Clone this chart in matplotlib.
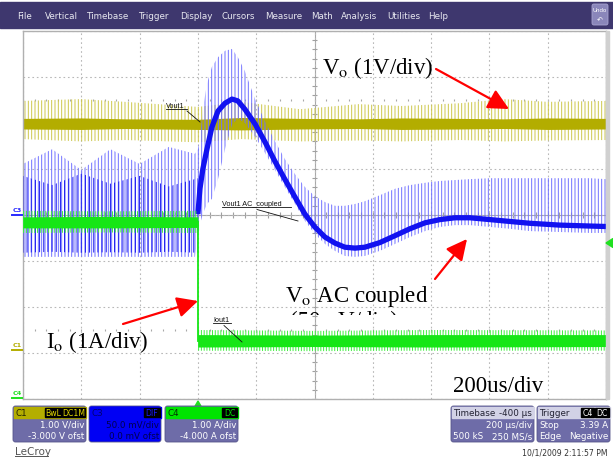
import numpy as np
import matplotlib.pyplot as plt
from matplotlib.patches import Rectangle, FancyBboxPatch, Polygon
from matplotlib.transforms import Bbox, TransformedBbox

plt.rcParams['hatch.linewidth'] = 0.7
plt.rcParams['mathtext.fontset'] = 'stix'

# time axis in us (trigger at 0, 200 us/div), traces in screen divisions
grid_t = np.arange(-600, 1401, 200)
grid_y = np.arange(-4, 5, 1)

# Vout1 (C1, yellow)
vout_t = [-600, -400, -250, 0, 150, 350, 550, 700, 900, 1050, 1200, 1400]
vout_hi = [2.48, 2.52, 2.46, 2.35, 2.46, 2.30, 2.41, 2.37, 2.43, 2.52, 2.46, 2.48]
vout_lo = [1.65, 1.60, 1.63, 1.58, 1.65, 1.60, 1.62, 1.60, 1.63, 1.60, 1.62, 1.63]
vout_core_hi = [2.10, 2.11, 2.09, 2.08, 2.12, 2.10, 2.09, 2.11, 2.10, 2.09, 2.11, 2.10]
vout_core_lo = [1.87, 1.86, 1.88, 1.86, 1.85, 1.87, 1.88, 1.86, 1.87, 1.88, 1.86, 1.87]

# Vout1 AC coupled (C3, blue)
blue_t = [-600, -500, -400, -300, -200, -100, -10,
          0, 7, 17, 31, 48, 69, 93, 117, 137, 161, 196, 230, 264, 298, 333,
          367, 401, 436, 470, 504, 539, 573, 624, 676, 727, 779, 830, 882,
          933, 1002, 1070, 1139, 1242, 1345, 1400]
blue_mid = [-0.2, -0.2, -0.2, -0.2, -0.2, -0.2, -0.2,
            0.02, 0.57, 1.0, 1.43, 1.91, 2.26, 2.43, 2.52, 2.48, 2.30, 1.98,
            1.59, 1.17, 0.78, 0.39, 0.02, -0.26, -0.48, -0.61, -0.70, -0.72,
            -0.70, -0.60, -0.45, -0.30, -0.17, -0.10, -0.06, -0.06, -0.10,
            -0.14, -0.18, -0.22, -0.24, -0.25]
blue_hi = [1.11, 1.43, 0.98, 1.43, 1.11, 1.48, 1.33,
           1.43, 1.65, 2.30, 2.85, 3.22, 3.43, 3.57, 3.61, 3.43, 3.13, 2.52,
           2.04, 1.61, 1.22, 0.89, 0.61, 0.41, 0.28, 0.20, 0.20, 0.24, 0.30,
           0.43, 0.57, 0.65, 0.70, 0.74, 0.76, 0.78, 0.80, 0.80, 0.80, 0.80,
           0.80, 0.78]
blue_lo = [-0.91, -0.91, -0.91, -0.91, -0.91, -0.91, -0.91,
           -0.41, -0.20, 0.02, 0.24, 0.35, 0.78, 1.43, 1.96, 2.10, 2.00, 1.70,
           1.35, 0.98, 0.61, 0.24, -0.13, -0.41, -0.63, -0.78, -0.89, -0.91,
           -0.89, -0.78, -0.63, -0.48, -0.35, -0.26, -0.22, -0.22, -0.26,
           -0.30, -0.35, -0.37, -0.39, -0.39]
blue_pre_t = [-600, -500, -400, -300, -200, -100, 0]
blue_pre_hi = [0.85, 0.65, 0.90, 0.68, 0.85, 0.62, 0.80]
blue_pre_lo = [-0.82, -0.80, -0.82, -0.81, -0.82, -0.80, -0.82]

# Iout1 (C4, green)
iout_pre_t = [-600, -300, 0]
iout_pre_hi = [0.09, 0.08, 0.09]
iout_pre_lo = [-0.39, -0.38, -0.39]
iout_pre_core = [(-0.04, -0.28), (-0.03, -0.28), (-0.04, -0.27)]
iout_post_t = [0, 400, 800, 1400]
iout_post_hi = [-2.50, -2.52, -2.50, -2.51]
iout_post_lo = [-2.95, -2.96, -2.95, -2.95]
iout_post_core = [(-2.60, -2.87), (-2.61, -2.86), (-2.60, -2.87), (-2.60, -2.86)]
iout_level = [-0.15, -2.74]

menu_items = ['File', 'Vertical', 'Timebase', 'Trigger', 'Display', 'Cursors',
              'Measure', 'Math', 'Analysis', 'Utilities', 'Help']
menu_x = [17, 45, 86, 138, 180, 221, 265, 311, 341, 387, 428]

fig = plt.figure(figsize=(6.13, 4.6), dpi=100, facecolor='white')
W, H = 613, 460
ax = fig.add_axes([23 / W, 60 / H, 583 / W, 368 / H], zorder=1)
ax.set_xlim(-600, 1400)
ax.set_ylim(-4, 4)
ax.set_xticks(grid_t)
ax.set_yticks(grid_y)
ax.tick_params(length=0, labelbottom=False, labelleft=False)
ax.grid(True, color='#b8b8b8', linestyle=(0, (1.5, 2.5)), linewidth=0.8)
for s in ax.spines.values():
    s.set_color('#b0b0b0')
    s.set_linewidth(1.0)

# center axes with minor ticks
ax.axhline(0, color='#a8a8a8', lw=0.8, zorder=0.5)
ax.axvline(400, color='#a8a8a8', lw=0.8, zorder=0.5)
mt = np.arange(-600, 1401, 40)
ax.vlines(mt, -0.06, 0.06, color='#a0a0a0', lw=0.8, zorder=0.5)
ax.vlines(mt, 2.47, 2.53, color='#a8a8a8', lw=0.8, zorder=0.5)
ax.vlines(mt, -2.53, -2.47, color='#a8a8a8', lw=0.8, zorder=0.5)
my = np.arange(-4, 4.01, 0.2)
ax.hlines(my, 390, 410, color='#a0a0a0', lw=0.8, zorder=0.5)

# yellow trace
ax.fill_between(vout_t, vout_lo, vout_hi, facecolor='none', edgecolor='#cdc74a',
                hatch='|||||', linewidth=0, zorder=2)
ax.fill_between(vout_t, vout_core_lo, vout_core_hi, color='#b3ad00', linewidth=0, zorder=2.1)

# blue trace
ax.fill_between(blue_t, blue_lo, blue_hi, facecolor='none', edgecolor='#7070ff',
                hatch='|||||', linewidth=0, zorder=3)
ax.fill_between(blue_pre_t, blue_pre_lo, blue_pre_hi, facecolor='none', edgecolor='#1818f0',
                hatch='||||', linewidth=0, zorder=3.1)
ax.plot(blue_t[7:], blue_mid[7:], color='#1212f0', lw=3.8, solid_capstyle='butt', zorder=3.2)

# green trace
ax.fill_between(iout_pre_t, iout_pre_lo, iout_pre_hi, facecolor='none', edgecolor='#3cf03c',
                hatch='||||||', linewidth=0, zorder=4)
ax.fill_between(iout_pre_t, [c[1] for c in iout_pre_core], [c[0] for c in iout_pre_core],
                color='#16e616', linewidth=0, zorder=4.1)
ax.fill_between(iout_post_t, iout_post_lo, iout_post_hi, facecolor='none', edgecolor='#3cf03c',
                hatch='||||||', linewidth=0, zorder=4)
ax.fill_between(iout_post_t, [c[1] for c in iout_post_core], [c[0] for c in iout_post_core],
                color='#16e616', linewidth=0, zorder=4.1)
ax.plot([0, 0], iout_level, color='#16e616', lw=1.3, zorder=4.2)

# overlay in pixel coordinates
ov = fig.add_axes([0, 0, 1, 1], zorder=5)
ov.set_xlim(0, W)
ov.set_ylim(H, 0)
ov.axis('off')
ov.patch.set_alpha(0)

ov.add_patch(Rectangle((0, 3), W, 26, color='#3e376e'))
for name, x in zip(menu_items, menu_x):
    ov.text(x, 16.5, name, color='#e8e8f0', fontsize=6.3, va='center', family='DejaVu Sans')
ov.add_patch(FancyBboxPatch((592, 5), 16, 21, boxstyle='round,pad=0,rounding_size=2',
                            fc='#8a86ba', ec='#a8a4d0', lw=0.6))
ov.text(600, 11, 'Undo', color='white', fontsize=4, ha='center', va='center')
ov.text(600, 20, '\u21b6', color='white', fontsize=5, ha='center', va='center')
ov.add_patch(Rectangle((606, 32), 3, 368, color='#d0d0d0'))

# channel markers at left / right
for lab, yy, c in [('C3', 211, '#2a2aff'), ('C1', 346, '#b3ad00'), ('C4', 394, '#20e020')]:
    ov.text(17, yy, lab, color=c, fontsize=4.6, ha='center', va='center', fontweight='bold')
    ov.plot([12, 22], [yy + 4.5, yy + 4.5], color=c, lw=1.4)
ov.add_patch(Polygon([(613, 239.5), (613, 248.5), (606, 244)], color='#20e020'))
ov.add_patch(Polygon([(194, 409), (202, 409), (198, 402)], color='#20e020'))

# small trace labels
sans = 'Liberation Sans'
for txt, x, y, ux, lead in [('Vout1', 166, 108, 187, ((187, 112), (200, 123))),
                            ('Vout1 AC_coupled', 222, 206, 291, ((257, 210.5), (298, 222))),
                            ('Iout1', 213, 322, 231, ((224, 326.5), (242, 343)))]:
    ov.text(x, y, txt, fontsize=5.2, family=sans, va='baseline', color='#111111')
    ov.plot([x, ux], [y + 2, y + 2], color='#111111', lw=0.6)
    ov.plot(*zip(*lead), color='#111111', lw=0.6)

# annotations
serif = 'Liberation Serif'
ov.text(322, 74, r'V$_\mathrm{o}$ (1V/div)', fontsize=16.5, family=serif, va='baseline')
ov.text(285, 302, r'V$_\mathrm{o}$ AC coupled', fontsize=16.5, family=serif, va='baseline')
cut = ov.text(290, 327, '(50mV/div)', fontsize=16.5, family=serif, va='baseline', clip_on=True)
cut.set_clip_box(TransformedBbox(Bbox([[280, 300], [440, 316]]), ov.transData))
ov.text(46, 348, r'I$_\mathrm{o}$ (1A/div)', fontsize=16.5, family=serif, va='baseline')
ov.text(453, 392, '200us/div', fontsize=16.5, family=serif, va='baseline')

arrow = dict(arrowstyle='-|>,head_length=0.9,head_width=0.45', color='#ff0000', lw=1.6,
             shrinkA=0, shrinkB=0, mutation_scale=14)
ov.annotate('', xy=(509, 110), xytext=(436, 70), arrowprops=arrow)
ov.annotate('', xy=(467, 240), xytext=(435, 280), arrowprops=arrow)
ov.annotate('', xy=(198, 302), xytext=(123, 325), arrowprops=arrow)

# bottom status panels
body = '#6e6ca8'


def panel(x0, x1, head, full=None):
    ov.add_patch(FancyBboxPatch((x0, 407), x1 - x0, 36, boxstyle='round,pad=0,rounding_size=2.5',
                                fc=full or body, ec='#55548a', lw=0.6))
    ov.add_patch(Rectangle((x0 + 0.5, 407.5), x1 - x0 - 1, 11.5, color=head))


def tag(x0, x1, txt, c):
    ov.add_patch(Rectangle((x0, 408.5), x1 - x0, 9, color='black'))
    ov.text((x0 + x1) / 2, 413.3, txt, color=c, fontsize=5.6, ha='center', va='center')


fs = 6.3
panel(13, 86, '#b4ae00')
ov.text(16, 413.3, 'C1', color='#222200', fontsize=fs, va='center')
tag(45, 61, 'BwL', '#e6dc00')
tag(62, 85, 'DC1M', '#e6dc00')
ov.text(84, 425.5, '1.00 V/div', color='white', fontsize=fs, ha='right', va='center')
ov.text(84, 437, '-3.000 V ofst', color='white', fontsize=fs, ha='right', va='center')

panel(89, 161, '#0000f4', full='#0000f4')
ov.text(92, 413.3, 'C3', color='#000070', fontsize=fs, va='center')
tag(144, 160, 'DIF', '#1a1aff')
ov.text(159, 425.5, '50.0 mV/div', color='#000050', fontsize=fs, ha='right', va='center')
ov.text(159, 437, '0.0 mV ofst', color='#000050', fontsize=fs, ha='right', va='center')

panel(165, 238, '#00e400')
ov.text(168, 413.3, 'C4', color='#003300', fontsize=fs, va='center')
tag(222, 237, 'DC', '#00e400')
ov.text(236, 425.5, '1.00 A/div', color='white', fontsize=fs, ha='right', va='center')
ov.text(236, 437, '-4.000 A ofst', color='white', fontsize=fs, ha='right', va='center')

panel(451, 534, '#d2d2e6')
ov.text(453, 413.3, 'Timebase', color='#222233', fontsize=fs, va='center')
ov.text(532, 413.3, '-400 \u00b5s', color='#222233', fontsize=fs, ha='right', va='center')
ov.text(532, 425.5, '200 \u00b5s/div', color='white', fontsize=fs, ha='right', va='center')
ov.text(453, 437, '500 kS', color='white', fontsize=fs, va='center')
ov.text(532, 437, '250 MS/s', color='white', fontsize=fs, ha='right', va='center')

panel(537, 610, '#d2d2e6')
ov.text(539, 413.3, 'Trigger', color='#222233', fontsize=fs, va='center')
tag(581, 594, 'C4', 'white')
tag(595, 609, 'DC', 'white')
ov.text(539, 425.5, 'Stop', color='white', fontsize=fs, va='center')
ov.text(608, 425.5, '3.39 A', color='white', fontsize=fs, ha='right', va='center')
ov.text(539, 437, 'Edge', color='white', fontsize=fs, va='center')
ov.text(608, 437, 'Negative', color='white', fontsize=fs, ha='right', va='center')

ov.text(15, 452, 'LeCroy', color='#555555', fontsize=7.5, va='center')
ov.plot([15, 48], [457, 457], color='#555555', lw=0.7)
ov.text(607, 453, '10/1/2009 2:11:57 PM', color='#333333', fontsize=5.6, ha='right', va='center')

plt.savefig('out.png', dpi=100)
